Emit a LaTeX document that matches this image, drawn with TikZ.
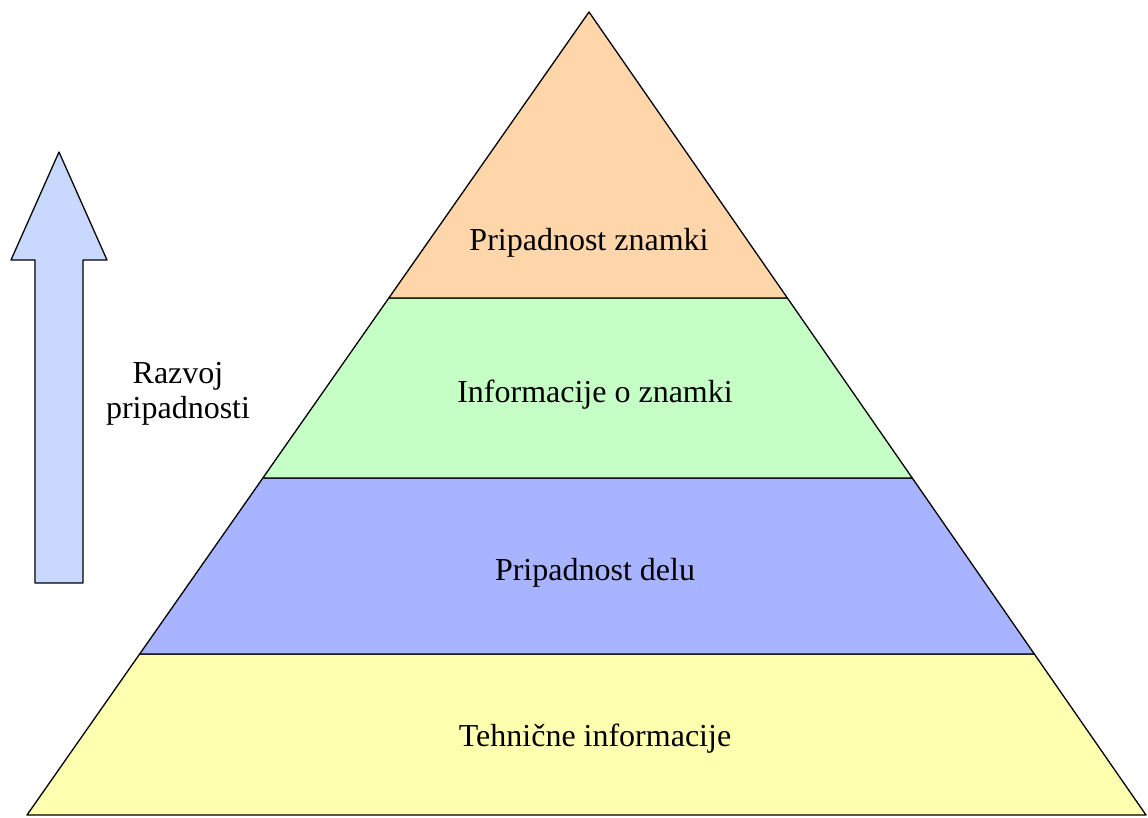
\documentclass[tikz,border=0pt]{standalone}
\usepackage{fontspec}
\setmainfont{Liberation Serif}
\usetikzlibrary{calc}
\definecolor{peach}{HTML}{FFD6AA}
\definecolor{mint}{HTML}{C6FFC6}
\definecolor{lavender}{HTML}{A8B4FF}
\definecolor{cream}{HTML}{FFFFB0}
\definecolor{skyblue}{HTML}{C8D8FF}
\begin{document}
\begin{tikzpicture}[x=1pt,y=-1pt,
  layer/.style={draw=black,line width=1.3pt,line join=round},
  label/.style={font=\fontsize{32}{35}\selectfont,inner sep=0pt}]
\useasboundingbox (0,0) rectangle (1148,817);
% pyramid corners
\coordinate (apex) at (589,12);
\coordinate (bl) at (27,815);
\coordinate (br) at (1146,815);
% layer boundaries on the left and right sides
\coordinate (l1) at ($(apex)!0.3562!(bl)$);
\coordinate (r1) at ($(apex)!0.3562!(br)$);
\coordinate (l2) at ($(apex)!0.5803!(bl)$);
\coordinate (r2) at ($(apex)!0.5803!(br)$);
\coordinate (l3) at ($(apex)!0.7995!(bl)$);
\coordinate (r3) at ($(apex)!0.7995!(br)$);
% four layers, bottom to top
\filldraw[layer,fill=cream] (l3) -- (r3) -- (br) -- (bl) -- cycle;
\filldraw[layer,fill=lavender] (l2) -- (r2) -- (r3) -- (l3) -- cycle;
\filldraw[layer,fill=mint] (l1) -- (r1) -- (r2) -- (l2) -- cycle;
\filldraw[layer,fill=peach] (apex) -- (r1) -- (l1) -- cycle;
% layer captions
\node[label] (t1) at (589,243) {Pripadnost znamki};
\node[label] (t2) at (595,395) {Informacije o znamki};
\node[label] (t3) at (595,573) {Pripadnost delu};
\node[label] (t4) at (595,739) {Tehnične informacije};
% upward arrow
\filldraw[layer,fill=skyblue] (35,583) -- (83,583) -- (83,260) -- (107,260)
  -- (59,152) -- (11,260) -- (35,260) -- cycle;
\node[label,align=center,anchor=base] (dev) at (178,418) {Razvoj\\pripadnosti};
\end{tikzpicture}
\end{document}
